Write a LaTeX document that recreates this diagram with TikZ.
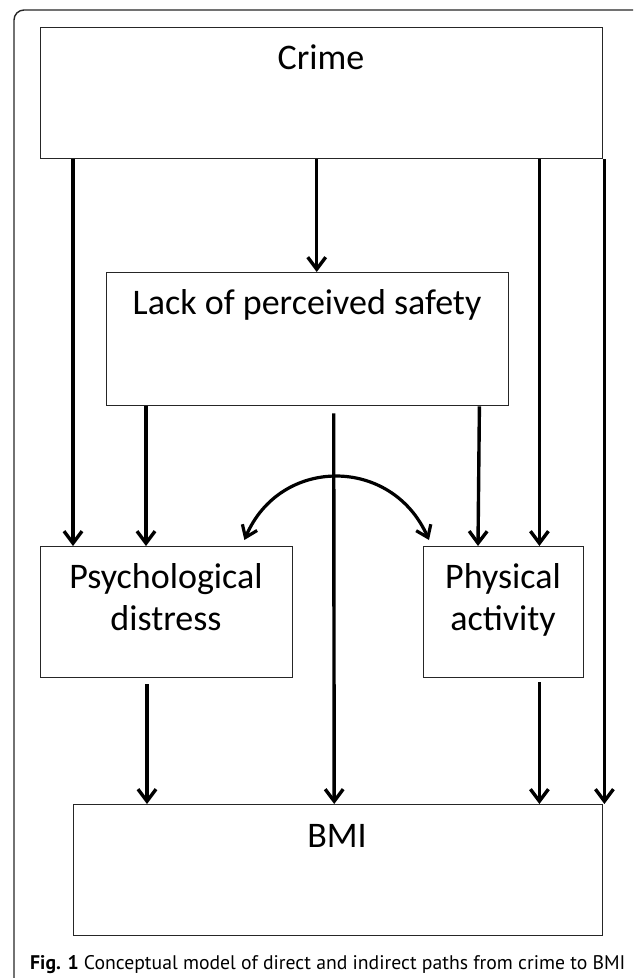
\documentclass[tikz,border=0pt]{standalone}
\usepackage{fontspec}
\setmainfont{Carlito}
\newfontfamily\capfont{PT Sans}
\usetikzlibrary{arrows.meta}
\begin{document}
\begin{tikzpicture}[x=1pt,y=-1pt,
  box/.style={draw=black!85, line width=1.4pt, inner sep=0pt, anchor=north west},
  lbl/.style={font=\fontsize{36}{42}\selectfont, anchor=base, inner sep=0pt, align=center},
  arr/.style={line width=3.4pt, -{Straight Barb[length=12pt,width=18pt]}},
  dblarr/.style={line width=3.2pt, {Straight Barb[length=11pt,width=16pt]}-{Straight Barb[length=11pt,width=16pt]}},
  frame/.style={draw=black!85, line width=1.4pt, rounded corners=10pt}]
\useasboundingbox (0,0) rectangle (633,978);
\begin{scope}
\clip (0,0) rectangle (633,978);
\draw[frame] (14,10) rectangle (652,1000);
\end{scope}
% boxes
\node[box, minimum width=562pt, minimum height=131pt] (crime) at (40,27) {};
\node[box, minimum width=402pt, minimum height=133pt] (lack) at (106,272) {};
\node[box, minimum width=252pt, minimum height=131pt] (psych) at (40,546) {};
\node[box, minimum width=160pt, minimum height=131pt] (phys) at (423,546) {};
\node[box, minimum width=529pt, minimum height=131pt] (bmi) at (73,804) {};
% texts
\node[lbl] (crimet) at (321,69) {Crime};
\node[lbl] (lackt) at (307,314) {Lack of perceived safety};
\node[lbl] (psycht) at (166,630) {Psychological\\distress};
\node[lbl] (physt) at (503,630) {Physical\\activity};
\node[lbl] (bmit) at (337,847) {BMI};
% arrows from crime
\draw[arr] ([xshift=33pt]crime.south west) -- ([xshift=33pt]psych.north west);
\draw[arr] ([xshift=-5pt]crime.south) -- ([xshift=9pt]lack.north);
\draw[arr] ([xshift=-64pt]crime.south east) -- ([xshift=-45pt]phys.north east);
\draw[arr] ([xshift=1pt]crime.south east) -- ([xshift=1pt]bmi.north east);
% arrows from lack
\draw[arr] ([xshift=40pt]lack.south west) -- ([xshift=106pt]psych.north west);
\draw[arr] ([xshift=-30pt]lack.south east) -- ([xshift=55pt]phys.north west);
\draw[arr] ([xshift=26pt,yshift=-7pt]lack.south) -- ([xshift=-4pt]bmi.north);
% arrows to BMI
\draw[arr] ([xshift=107pt,yshift=-6pt]psych.south west) -- ([xshift=74pt]bmi.north west);
\draw[arr] ([xshift=-45pt,yshift=-4pt]phys.south east) -- ([xshift=-64pt]bmi.north east);
% correlation
\coordinate (cl) at ([xshift=-49pt,yshift=6pt]psych.north east);
\coordinate (cr) at ([xshift=6pt,yshift=6pt]phys.north west);
\draw[dblarr] (cl) .. controls (280,456) and (392,456) .. (cr);
% caption
\node[anchor=base west, inner sep=0pt, font=\capfont\fontsize{19.7}{24}\selectfont] (cap) at (30,969) {\textbf{Fig. 1} Conceptual model of direct and indirect paths from crime to BMI};
\end{tikzpicture}
\end{document}
